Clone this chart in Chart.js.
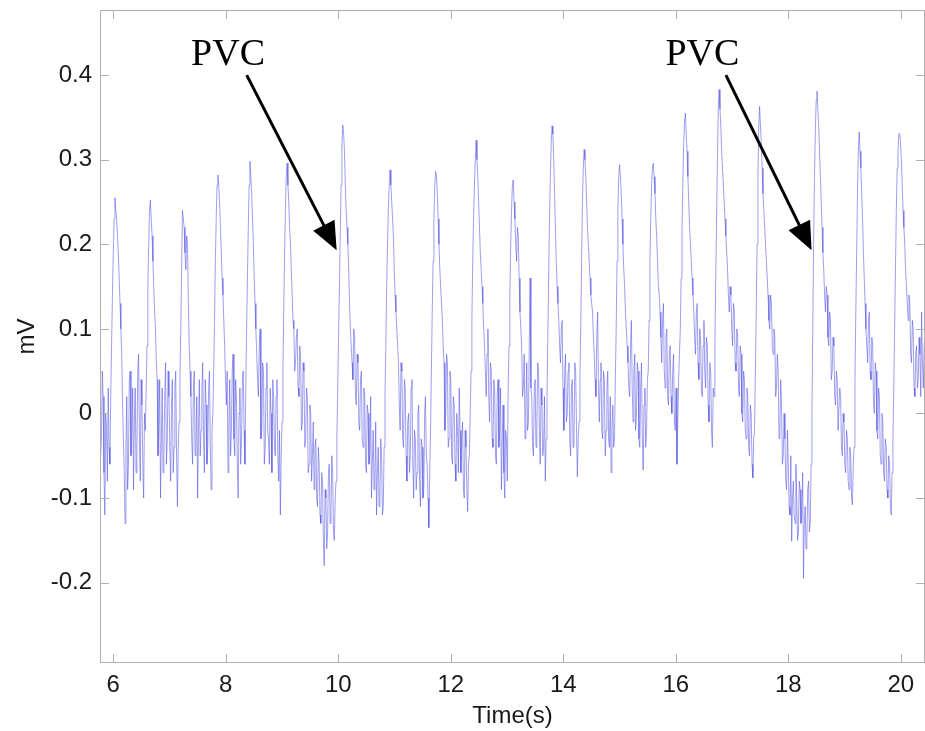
<!DOCTYPE html>
<html>
<head>
<meta charset="utf-8">
<script src="https://cdn.jsdelivr.net/npm/chart.js@4.4.0/dist/chart.umd.min.js"></script>
<style>
  html, body { margin: 0; padding: 0; background: #fff; }
  #wrap { width: 925px; height: 731px; }
</style>
</head>
<body>
<div id="wrap"><canvas id="ecgChart" width="925" height="731"></canvas></div>
<script>
var sampleStart = 5.76;
var sampleStep = 0.015;

var ecgA = [ // 5.76 - 7.25 s
  0.04, -0.05, -0.03, 0.05, 0.02, -0.07, -0.12, 0.0, -0.02, -0.08,
  0.03, -0.04, -0.06, 0.02, 0.08, 0.14, 0.19, 0.23, 0.255, 0.24,
  0.23, 0.21, 0.19, 0.16, 0.13, 0.1, 0.07, 0.01, -0.03, -0.07,
  -0.13, -0.04, 0.02, -0.09, -0.06, 0.04, 0.05, -0.05, -0.02, 0.03,
  -0.09, -0.01, 0.03, -0.07, -0.04, 0.05, 0.07, -0.03, -0.08, 0.04,
  0.01, -0.06, -0.1, 0.0, -0.02, 0.03, 0.08, 0.15, 0.2, 0.24,
  0.252, 0.23, 0.21, 0.18, 0.15, 0.12, 0.1, 0.06, 0.04, -0.05,
  -0.02, 0.04, -0.1, -0.03, 0.03, -0.07, -0.05, 0.02, 0.06, -0.06,
  -0.03, 0.05, 0.02, -0.04, -0.08, 0.01, 0.04, -0.07, -0.04, 0.03,
  0.05, -0.05, -0.11, -0.04, -0.01, 0.04, 0.1, 0.17, 0.24, 0.23
];
var ecgB = [ // 7.26 - 8.75 s
  0.22, 0.19, 0.17, 0.21, 0.2, 0.13, 0.08, 0.05, 0.02, -0.03,
  -0.06, 0.03, 0.05, -0.05, -0.03, 0.02, -0.1, -0.02, 0.04, -0.05,
  -0.02, 0.03, 0.06, -0.03, -0.07, 0.04, 0.01, -0.06, -0.04, 0.03,
  0.05, -0.04, -0.09, -0.02, 0.0, 0.05, 0.11, 0.18, 0.23, 0.27,
  0.282, 0.27, 0.25, 0.22, 0.19, 0.16, 0.14, 0.11, 0.08, 0.04,
  0.01, 0.05, -0.07, -0.02, 0.04, -0.05, -0.02, 0.05, 0.07, -0.03,
  -0.05, 0.04, 0.02, -0.06, -0.1, 0.0, 0.03, -0.06, -0.03, 0.04,
  0.05, -0.02, -0.06, 0.03, 0.1, 0.16, 0.22, 0.27, 0.298, 0.28,
  0.26, 0.23, 0.2, 0.16, 0.13, 0.1, 0.07, 0.04, 0.02, 0.08,
  0.1, -0.03, -0.02, 0.06, 0.05, -0.06, -0.04, 0.03, 0.06, -0.02
];
var ecgC = [ // 8.76 - 10.25 s (first PVC)
  -0.03, -0.06, 0.03, 0.0, -0.07, 0.04, 0.02, -0.04, -0.05, 0.02,
  0.04, -0.05, -0.08, -0.02, -0.12, -0.05, -0.01, 0.05, 0.12, 0.19,
  0.24, 0.28, 0.296, 0.27, 0.25, 0.22, 0.2, 0.17, 0.14, 0.11,
  0.1, 0.05, 0.06, 0.09, 0.1, 0.03, 0.02, 0.08, 0.07, -0.02,
  -0.01, 0.06, 0.05, -0.04, -0.03, 0.03, 0.02, -0.07, -0.06, 0.01,
  0.0, -0.08, -0.05, -0.01, -0.09, -0.04, -0.03, -0.1, -0.11, -0.04,
  -0.06, -0.12, -0.13, -0.07, -0.08, -0.15, -0.18, -0.09, -0.1, -0.16,
  -0.14, -0.07, -0.06, -0.13, -0.12, -0.05, -0.07, -0.14, -0.15, -0.1,
  -0.08, -0.03, 0.03, 0.09, 0.15, 0.21, 0.27, 0.32, 0.341, 0.33,
  0.31, 0.27, 0.24, 0.22, 0.2, 0.17, 0.13, 0.1, 0.08, 0.06
];
var ecgD = [ // 10.26 - 11.75 s
  0.04, 0.1, 0.09, 0.02, 0.01, 0.07, 0.06, -0.01, -0.02, 0.04,
  0.05, -0.03, -0.04, 0.03, 0.02, -0.06, -0.07, 0.01, 0.0, -0.06,
  -0.05, 0.02, -0.1, -0.06, -0.02, -0.09, -0.08, -0.01, -0.12, -0.07,
  -0.04, -0.11, -0.1, -0.03, -0.05, -0.12, -0.11, -0.04, 0.02, 0.08,
  0.15, 0.2, 0.24, 0.27, 0.288, 0.27, 0.25, 0.23, 0.21, 0.17,
  0.14, 0.12, 0.1, 0.08, 0.06, 0.01, -0.02, 0.06, 0.05, -0.03,
  -0.04, 0.04, 0.03, -0.05, -0.08, -0.01, 0.0, -0.07, -0.05, 0.03,
  0.04, -0.06, -0.1, -0.02, -0.03, -0.09, -0.07, 0.0, 0.01, -0.08,
  -0.11, -0.03, -0.04, -0.1, -0.09, 0.0, 0.02, -0.05, -0.06, -0.1,
  -0.135, -0.07, -0.02, 0.05, 0.12, 0.18, 0.23, 0.27, 0.286, 0.28
];
var ecgE = [ // 11.76 - 13.25 s
  0.26, 0.23, 0.2, 0.17, 0.15, 0.13, 0.11, 0.08, 0.06, -0.02,
  0.0, 0.07, 0.06, -0.04, -0.03, 0.05, 0.04, -0.05, -0.06, 0.02,
  0.01, -0.06, -0.08, 0.0, -0.02, -0.07, 0.03, -0.02, -0.07, -0.03,
  -0.01, -0.09, -0.1, -0.02, -0.04, -0.09, -0.116, -0.06, -0.05, 0.0,
  0.05, 0.11, 0.18, 0.23, 0.27, 0.3, 0.323, 0.3, 0.28, 0.25,
  0.22, 0.19, 0.17, 0.15, 0.13, 0.1, 0.08, 0.05, 0.02, 0.07,
  0.1, 0.02, -0.01, 0.06, 0.05, -0.03, -0.04, 0.04, 0.03, -0.05,
  -0.06, 0.02, 0.04, -0.04, -0.02, 0.03, -0.09, -0.03, 0.01, -0.07,
  -0.1, -0.02, -0.03, -0.08, 0.03, 0.08, 0.14, 0.2, 0.24, 0.27,
  0.276, 0.25, 0.23, 0.2, 0.18, 0.22, 0.21, 0.16, 0.12, 0.1
];
var ecgF = [ // 13.26 - 14.75 s
  0.08, 0.02, 0.03, 0.07, -0.03, 0.01, 0.06, -0.02, -0.01, 0.08,
  0.16, 0.03, 0.02, -0.04, -0.05, 0.03, 0.04, -0.04, -0.02, 0.06,
  0.05, -0.02, -0.06, 0.03, 0.01, -0.05, -0.04, 0.02, -0.08, -0.03,
  0.02, 0.09, 0.16, 0.23, 0.28, 0.32, 0.34, 0.33, 0.3, 0.26,
  0.22, 0.18, 0.15, 0.13, 0.11, 0.08, 0.06, 0.1, 0.11, 0.03,
  -0.02, 0.05, 0.07, -0.01, 0.0, 0.05, 0.06, -0.03, -0.05, 0.03,
  0.04, -0.04, -0.03, 0.06, 0.05, -0.02, -0.075, -0.03, -0.01, 0.04,
  0.1, 0.18, 0.25, 0.29, 0.312, 0.3, 0.28, 0.25, 0.22, 0.2,
  0.18, 0.16, 0.14, 0.13, 0.12, 0.09, 0.07, 0.04, 0.02, 0.09,
  0.12, 0.03, -0.01, 0.04, 0.06, -0.02, -0.03, 0.05, 0.04, -0.05
];
var ecgG = [ // 14.76 - 16.25 s
  -0.02, 0.03, 0.05, -0.03, -0.04, 0.02, -0.07, -0.02, 0.01, -0.04,
  -0.03, 0.04, 0.1, 0.18, 0.24, 0.28, 0.294, 0.28, 0.26, 0.23,
  0.2, 0.17, 0.15, 0.12, 0.1, 0.08, 0.06, 0.03, 0.02, 0.08,
  0.11, 0.03, -0.01, 0.05, 0.07, -0.02, 0.0, 0.06, 0.05, -0.03,
  -0.04, 0.03, 0.06, -0.03, -0.067, 0.01, 0.03, -0.04, -0.02, 0.04,
  0.05, 0.11, 0.18, 0.23, 0.27, 0.29, 0.296, 0.28, 0.26, 0.23,
  0.21, 0.18, 0.15, 0.14, 0.12, 0.09, 0.06, 0.11, 0.13, 0.05,
  0.03, 0.09, 0.1, 0.02, 0.01, 0.07, 0.08, 0.02, 0.0, 0.05,
  0.07, -0.01, -0.02, 0.03, -0.06, -0.01, 0.04, 0.07, 0.1, 0.16,
  0.22, 0.27, 0.32, 0.345, 0.355, 0.33, 0.31, 0.28, 0.25, 0.22
];
var ecgH = [ // 16.26 - 17.75 s
  0.2, 0.18, 0.16, 0.14, 0.12, 0.09, 0.07, 0.12, 0.13, 0.06,
  0.04, 0.1, 0.09, 0.03, 0.02, 0.08, 0.11, 0.05, 0.03, 0.09,
  0.08, 0.01, -0.01, 0.06, 0.05, -0.02, -0.04, 0.03, 0.02, 0.08,
  0.16, 0.23, 0.3, 0.36, 0.383, 0.36, 0.34, 0.31, 0.29, 0.27,
  0.25, 0.23, 0.21, 0.19, 0.17, 0.14, 0.12, 0.15, 0.14, 0.1,
  0.08, 0.13, 0.12, 0.06, 0.05, 0.1, 0.09, 0.03, 0.02, 0.08,
  0.07, 0.0, -0.01, 0.05, 0.04, -0.02, -0.03, 0.03, 0.02, -0.04,
  -0.05, 0.01, 0.0, -0.06, -0.076, -0.03, -0.02, 0.05, 0.12, 0.2,
  0.28, 0.34, 0.363, 0.34, 0.32, 0.29, 0.26, 0.24, 0.22, 0.2,
  0.18, 0.16, 0.14, 0.11, 0.1, 0.14, 0.13, 0.08, 0.07, 0.1
];
var ecgI = [ // 17.76 - 19.25 s (second PVC)
  0.09, 0.02, 0.03, 0.07, 0.05, -0.03, -0.02, 0.04, 0.01, -0.06,
  -0.05, 0.0, -0.03, -0.08, -0.09, -0.02, -0.06, -0.11, -0.12, -0.05,
  -0.151, -0.1, -0.08, -0.12, -0.13, -0.06, -0.1, -0.15, -0.14, -0.08,
  -0.09, -0.13, -0.12, -0.07, -0.195, -0.13, -0.11, -0.16, -0.15, -0.09,
  -0.08, -0.14, -0.13, -0.06, 0.0, 0.1, 0.2, 0.28, 0.33, 0.37,
  0.381, 0.36, 0.34, 0.31, 0.28, 0.25, 0.22, 0.19, 0.17, 0.14,
  0.12, 0.15, 0.14, 0.09, 0.08, 0.12, 0.11, 0.04, 0.05, 0.09,
  0.08, 0.02, 0.01, 0.05, 0.04, -0.02, -0.02, 0.03, 0.02, -0.04,
  -0.05, 0.0, -0.01, -0.06, -0.07, -0.02, -0.03, -0.08, -0.09, -0.04,
  -0.05, -0.1, -0.108, -0.06, -0.04, 0.04, 0.12, 0.19, 0.26, 0.31
];
var ecgJ = [ // 19.26 - 20.45 s
  0.333, 0.31, 0.29, 0.26, 0.23, 0.19, 0.16, 0.13, 0.1, 0.08,
  0.06, 0.11, 0.12, 0.05, 0.04, 0.09, 0.08, 0.01, 0.0, 0.06,
  0.05, -0.02, -0.03, 0.03, 0.02, -0.05, -0.06, 0.0, -0.01, -0.07,
  -0.08, -0.03, -0.04, -0.09, -0.1, -0.05, -0.06, -0.11, -0.12, -0.07,
  -0.03, 0.03, 0.1, 0.17, 0.24, 0.29, 0.31, 0.33, 0.331, 0.32,
  0.3, 0.27, 0.24, 0.22, 0.2, 0.17, 0.15, 0.13, 0.11, 0.14,
  0.13, 0.07, 0.06, 0.11, 0.1, 0.03, 0.02, 0.07, 0.08, 0.03,
  0.04, 0.09, 0.07, 0.02, 0.12, 0.06, 0.03, 0.08, 0.09, 0.05
];

var xTicks = [6, 8, 10, 12, 14, 16, 18, 20];
var xTickLabels = ['6', '8', '10', '12', '14', '16', '18', '20'];
var yTicks = [-0.2, -0.1, 0, 0.1, 0.2, 0.3, 0.4];
var yTickLabels = ['-0.2', '-0.1', '0', '0.1', '0.2', '0.3', '0.4'];

// PVC callouts: label position and arrow from/to, in data units
var pvcNotes = [
  { text: 'PVC', t: 8.04, mv: 0.412, fromT: 8.372, fromMv: 0.400, toT: 9.971, toMv: 0.193 },
  { text: 'PVC', t: 16.473, mv: 0.412, fromT: 16.891, fromMv: 0.400, toT: 18.414, toMv: 0.193 }
];

var ecgValues = [].concat(ecgA, ecgB, ecgC, ecgD, ecgE, ecgF, ecgG, ecgH, ecgI, ecgJ);
var ecgPoints = ecgValues.map(function(v, i) {
  return { x: sampleStart + i * sampleStep, y: v };
});

var tickFont = { family: 'Liberation Sans, Arial, sans-serif', size: 24 };
var textColor = '#1a1a1a';

// matlab style box with inward ticks on all four sides
var frameTicks = {
  id: 'frameTicks',
  afterDatasetsDraw: function(chart) {
    var ctx = chart.ctx, a = chart.chartArea;
    var xs = chart.scales.x, ys = chart.scales.y;
    ctx.save();
    ctx.strokeStyle = '#b0b0b0';
    ctx.lineWidth = 1;
    ctx.strokeRect(a.left + 0.5, a.top + 0.5, a.right - a.left - 1, a.bottom - a.top - 1);
    ctx.beginPath();
    xTicks.forEach(function(t) {
      var px = Math.round(xs.getPixelForValue(t)) + 0.5;
      ctx.moveTo(px, a.bottom); ctx.lineTo(px, a.bottom - 9);
      ctx.moveTo(px, a.top); ctx.lineTo(px, a.top + 9);
    });
    yTicks.forEach(function(v) {
      var py = Math.round(ys.getPixelForValue(v)) + 0.5;
      ctx.moveTo(a.left, py); ctx.lineTo(a.left + 9, py);
      ctx.moveTo(a.right, py); ctx.lineTo(a.right - 9, py);
    });
    ctx.stroke();
    ctx.restore();
  }
};

var pvcArrows = {
  id: 'pvcArrows',
  afterDatasetsDraw: function(chart) {
    var ctx = chart.ctx;
    var xs = chart.scales.x, ys = chart.scales.y;
    ctx.save();
    pvcNotes.forEach(function(n) {
      ctx.fillStyle = '#000';
      ctx.font = '38px "Liberation Serif", "Times New Roman", serif';
      ctx.textAlign = 'center';
      ctx.textBaseline = 'alphabetic';
      ctx.fillText(n.text, xs.getPixelForValue(n.t), ys.getPixelForValue(n.mv));

      var x0 = xs.getPixelForValue(n.fromT), y0 = ys.getPixelForValue(n.fromMv);
      var x1 = xs.getPixelForValue(n.toT), y1 = ys.getPixelForValue(n.toMv);
      var len = Math.hypot(x1 - x0, y1 - y0);
      var ux = (x1 - x0) / len, uy = (y1 - y0) / len;
      var headLen = 28, headHalf = 12;
      var bx = x1 - ux * headLen, by = y1 - uy * headLen;
      ctx.strokeStyle = '#000';
      ctx.lineWidth = 3;
      ctx.beginPath();
      ctx.moveTo(x0, y0);
      ctx.lineTo(bx + ux * 2, by + uy * 2);
      ctx.stroke();
      ctx.beginPath();
      ctx.moveTo(x1, y1);
      ctx.lineTo(bx - uy * headHalf, by + ux * headHalf);
      ctx.lineTo(bx + uy * headHalf, by - ux * headHalf);
      ctx.closePath();
      ctx.fill();
    });
    ctx.restore();
  }
};

var ctx = document.getElementById('ecgChart').getContext('2d');
var chart = new Chart(ctx, {
  type: 'line',
  data: {
    datasets: [{
      data: ecgPoints,
      borderColor: 'rgba(80, 80, 225, 0.55)',
      borderWidth: 1,
      pointRadius: 0,
      tension: 0,
      fill: false
    }]
  },
  options: {
    responsive: false,
    animation: false,
    layout: { padding: { top: 10, right: 0, left: 0, bottom: 0 } },
    plugins: {
      legend: { display: false },
      tooltip: { enabled: false }
    },
    scales: {
      x: {
        type: 'linear',
        min: 5.764,
        max: 20.43,
        grid: { display: false, drawTicks: false },
        border: { display: false },
        afterFit: function(s) {
          s.height = 68;
          s.paddingLeft = 0;
          s.paddingRight = 0;
        },
        afterBuildTicks: function(s) {
          s.ticks = xTicks.map(function(v) { return { value: v }; });
        },
        ticks: {
          autoSkip: false,
          maxRotation: 0,
          padding: 8,
          color: textColor,
          font: tickFont,
          callback: function(value, index) { return xTickLabels[index]; }
        },
        title: {
          display: true,
          text: 'Time(s)',
          color: textColor,
          font: tickFont,
          padding: { top: 0, bottom: 0 }
        }
      },
      y: {
        type: 'linear',
        min: -0.295,
        max: 0.477,
        grid: { display: false, drawTicks: false },
        border: { display: false },
        afterFit: function(s) {
          s.width = 100;
          s.paddingTop = 0;
          s.paddingBottom = 0;
        },
        afterBuildTicks: function(s) {
          s.ticks = yTicks.map(function(v) { return { value: v }; });
        },
        ticks: {
          autoSkip: false,
          padding: 8,
          color: textColor,
          font: tickFont,
          callback: function(value, index) { return yTickLabels[index]; }
        },
        title: {
          display: true,
          text: 'mV',
          color: textColor,
          font: tickFont,
          padding: { top: 13, bottom: 0 }
        }
      }
    }
  },
  plugins: [frameTicks, pvcArrows]
});
</script>
</body>
</html>
